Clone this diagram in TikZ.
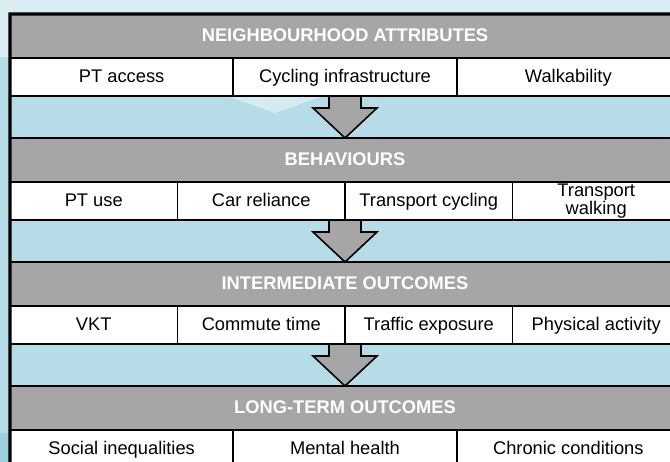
\documentclass[tikz,border=0pt]{standalone}
\usepackage{fontspec}
\setmainfont{Liberation Sans}
\usetikzlibrary{positioning, calc}
\definecolor{HeaderGray}{HTML}{A6A6A6}
\definecolor{BgTop}{HTML}{DAEDF3}
\definecolor{BgBlue}{HTML}{B6DDE7}
\definecolor{BgDeep}{HTML}{9ECFDF}
\definecolor{BgPale}{HTML}{D4EBF1}

\begin{document}
\begin{tikzpicture}[x=1pt,y=-1pt,%
  HeaderStyle/.style={shape=rectangle,draw=black,line width=1.8pt,fill=HeaderGray,
    minimum width=670pt,minimum height=44pt,inner sep=0pt,outer sep=0pt,
    text height=13pt,text depth=1pt,
    text=white,font=\fontsize{18.3}{18}\selectfont\bfseries},
  CellStyle/.style={shape=rectangle,draw=black,line width=1.8pt,fill=white,
    minimum height=38pt,inner sep=0pt,outer sep=0pt,align=center,
    font=\fontsize{18.3}{17.5}\selectfont},
  ThreeStyle/.style={CellStyle,minimum width=223.33pt,text height=13pt,text depth=1pt},
  FourStyle/.style={CellStyle,minimum width=167.5pt,text height=13pt,text depth=1pt},
  TwoLineStyle/.style={CellStyle,minimum width=167.5pt},
  ArrowStyle/.style={draw=black,line width=1.6pt,fill=HeaderGray,line join=miter}]
  \clip (0,0) rectangle (670,462);                  % page of the picture
  \fill[BgTop]  (0,0)   rectangle (670,57);          % pale sky band
  \fill[BgBlue] (0,57)  rectangle (670,433);         % main blue ground
  \fill[BgDeep] (0,433) rectangle (670,462);         % deeper band at the foot
  \fill[BgPale] (227,96) -- (323,96) -- (275,113) -- cycle; % faint wedge
  \node[HeaderStyle] (h1) at (345,36) {NEIGHBOURHOOD ATTRIBUTES};
  \node[ThreeStyle,below right=0pt of h1.south west] (c11) {PT access};
  \node[ThreeStyle,right=0pt of c11] (c12) {Cycling infrastructure};
  \node[ThreeStyle,right=0pt of c12] (c13) {Walkability};
  \node[HeaderStyle,below=80pt of h1] (h2) {BEHAVIOURS};  % next band under h1
  \node[FourStyle,below right=0pt of h2.south west] (c21) {PT use};
  \node[FourStyle,right=0pt of c21] (c22) {Car reliance};
  \node[FourStyle,right=0pt of c22] (c23) {Transport cycling};
  \node[TwoLineStyle,right=0pt of c23] (c24) {Transport\\walking};
  \node[HeaderStyle,below=80pt of h2] (h3) {INTERMEDIATE OUTCOMES};
  \node[FourStyle,below right=0pt of h3.south west] (c31) {VKT};
  \node[FourStyle,right=0pt of c31] (c32) {Commute time};
  \node[FourStyle,right=0pt of c32] (c33) {Traffic exposure};
  \node[FourStyle,right=0pt of c33] (c34) {Physical activity};
  \node[HeaderStyle,below=80pt of h3] (h4) {LONG-TERM OUTCOMES};
  \node[ThreeStyle,below right=0pt of h4.south west] (c41) {Social inequalities};
  \node[ThreeStyle,right=0pt of c41] (c42) {Mental health};
  \node[ThreeStyle,right=0pt of c42] (c43) {Chronic conditions};
  % block arrows from each row down to the next band
  \draw[ArrowStyle] ($(c12.south)+(-16,0)$) -- ++(32,0) -- ++(0,12) -- ++(16,0)
    -- (h2.north) -- ++(-32,-30) -- ++(16,0) -- cycle;
  \draw[ArrowStyle] ($(c22.south east)+(-16,0)$) -- ++(32,0) -- ++(0,12) -- ++(16,0)
    -- (h3.north) -- ++(-32,-30) -- ++(16,0) -- cycle;
  \draw[ArrowStyle] ($(c32.south east)+(-16,0)$) -- ++(32,0) -- ++(0,12) -- ++(16,0)
    -- (h4.north) -- ++(-32,-30) -- ++(16,0) -- cycle;
  % heavy outer frame
  \draw[line width=3.2pt] (c43.south east) -- (h1.north east) -- (h1.north west)
    -- (c41.south west);
\end{tikzpicture}
\end{document}
